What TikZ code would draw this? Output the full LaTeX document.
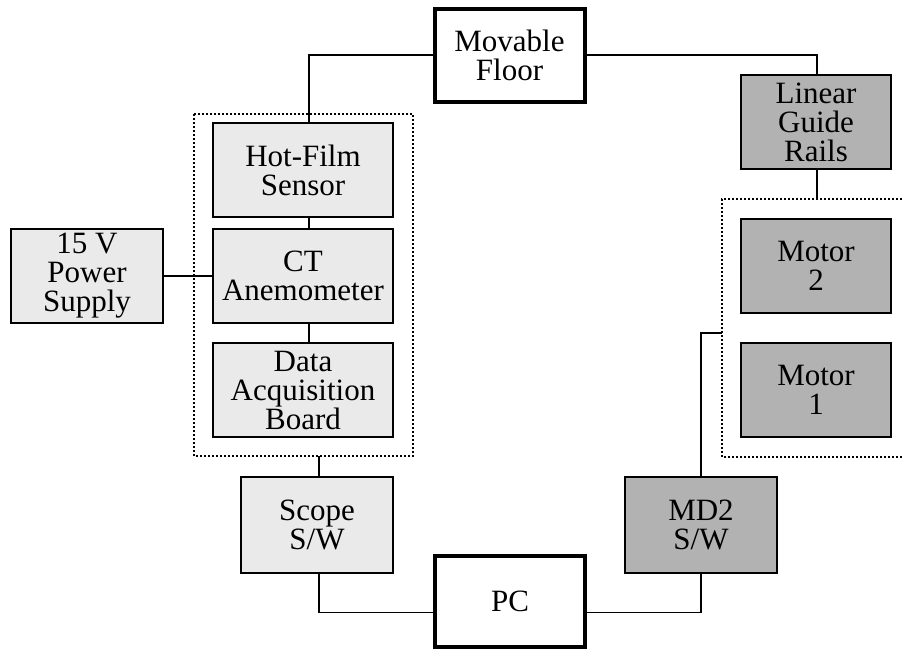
\documentclass[tikz,border=0pt]{standalone}
\usepackage{fontspec}
\setmainfont{Liberation Serif}
\usetikzlibrary{calc}
\definecolor{lightfill}{HTML}{EAEAEA}
\definecolor{darkfill}{HTML}{B2B2B2}
\begin{document}
\begin{tikzpicture}[x=1pt,y=-1pt,
  base/.style={draw=black, line width=1.4pt, align=center, inner sep=0pt,
    font=\fontsize{31}{29}\selectfont},
  lbox/.style={base, fill=lightfill, minimum width=180, minimum height=94},
  pbox/.style={base, fill=lightfill, minimum width=152, minimum height=95},
  dbox/.style={base, fill=darkfill, minimum width=150, minimum height=94},
  tbox/.style={base, fill=white, line width=4pt, minimum width=150, minimum height=91},
  conn/.style={line width=1.1pt},
  group/.style={line width=1.4pt, dash pattern=on 1.6pt off 2.4pt}
]
\useasboundingbox (0,0) rectangle (902,649);

% dotted groups
\draw[group] (194,114) rectangle (413,456);
\draw[group] (902,199) -| (722,457) -- (902,457);
\coordinate (ldb) at (319,456);
\coordinate (rdt) at (817,199);
\coordinate (rdl) at (722,333);

% boxes
\node[tbox, minimum height=93] (mf) at (509.5,55) {\fontsize{31}{37}\selectfont Movable\\Floor};
\node[lbox] (hf) at (303,170) {Hot-Film\\Sensor};
\node[lbox] (ct) at (303,276) {CT\\Anemometer};
\node[lbox] (daq) at (303,390) {Data\\Acquisition\\Board};
\node[pbox, minimum height=94] (ps) at (87,276) {\fontsize{31}{27}\selectfont 15 V\\Power\\Supply};
\node[pbox, minimum height=96] (sc) at (317,525) {\fontsize{31}{32}\selectfont Scope\\S/W};
\node[tbox] (pc) at (510,601.5) {PC};
\node[dbox, minimum width=152, minimum height=96] (md) at (701,525) {\fontsize{31}{36}\selectfont MD2\\S/W};
\node[dbox] (lg) at (816,122) {Linear\\Guide\\Rails};
\node[dbox] (m2) at (816,266) {\fontsize{31}{31}\selectfont Motor\\2};
\node[dbox] (m1) at (816,390) {\fontsize{31}{31}\selectfont Motor\\1};

% connectors
\draw[conn] (mf.west) -| ([xshift=6pt]hf.north);
\draw[conn] (mf.east) -| ([xshift=1pt]lg.north);
\draw[conn] ([xshift=6pt]hf.south) -- ([xshift=6pt]ct.north);
\draw[conn] ([xshift=6pt]ct.south) -- ([xshift=6pt]daq.north);
\draw[conn] (ps.east) -- (ct.west);
\draw[conn] ([xshift=1pt]lg.south) -- (rdt);
\draw[conn] (ldb) -- (ldb |- sc.north);
\draw[conn] ([xshift=2pt]sc.south) |- ([yshift=-11pt]pc.west);
\draw[conn] ([yshift=-11pt]pc.east) -| (md.south);
\draw[conn] (md.north) |- (rdl);
\end{tikzpicture}
\end{document}
